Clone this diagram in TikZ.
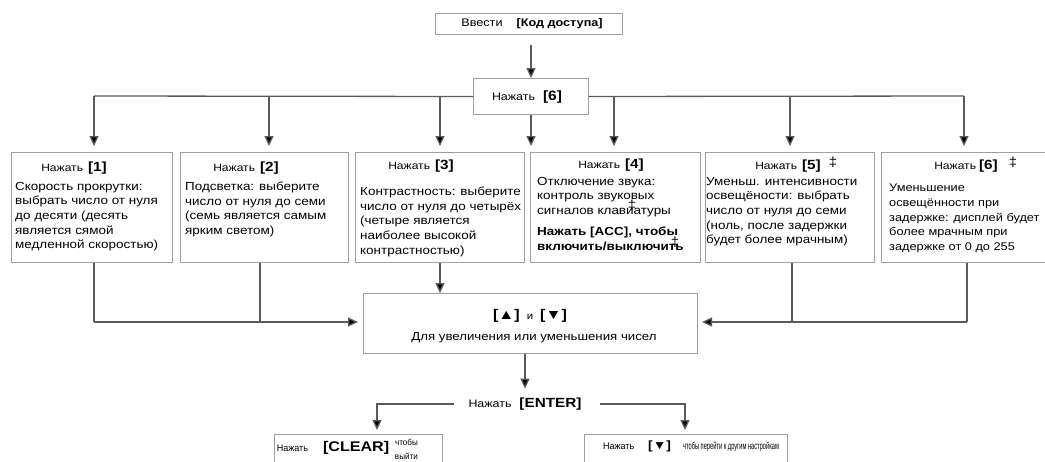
\documentclass[tikz,border=0pt]{standalone}
\usepackage{fontspec}
\setmainfont{Liberation Sans}[FakeStretch=1.15]
\newfontfamily\nrwf{Liberation Sans}[FakeStretch=0.95]
\newfontfamily\condf{Liberation Sans}[FakeStretch=0.57]
\usetikzlibrary{arrows.meta}
\definecolor{boxgray}{HTML}{A0A0A0}
\definecolor{lgray}{HTML}{5A5A5A}
\newcommand{\fs}[1]{\fontsize{#1}{#1}\selectfont}
\begin{document}
\begin{tikzpicture}[x=1pt,y=-1pt,
  box/.style={draw=boxgray, line width=1pt, inner sep=0pt, anchor=north west},
  conn/.style={draw=lgray, line width=1.3pt},
  arr/.style={conn, -{Triangle[width=9pt,length=10pt,fill=black]}},
  body/.style={inner sep=0pt, align=left, anchor=north west, font=\fontsize{11.7}{14.6}\selectfont},
  lbl/.style={inner sep=0pt},
  dag/.style={inner sep=0pt, font=\fontsize{13}{13}\selectfont},
]
\useasboundingbox (0,0) rectangle (1045,461);
\clip (0,0) rectangle (1045,461);
% boxes
\node[box, minimum width=187pt, minimum height=21pt] (top) at (435,13) {};
\node[box, minimum width=115pt, minimum height=36pt] (k6) at (473,78) {};
\node[box, minimum width=161pt, minimum height=110pt] (b1) at (11,152) {};
\node[box, minimum width=168pt, minimum height=110pt] (b2) at (180,152) {};
\node[box, minimum width=169pt, minimum height=110pt] (b3) at (355,152) {};
\node[box, minimum width=170pt, minimum height=110pt] (b4) at (530,152) {};
\node[box, minimum width=169pt, minimum height=110pt] (b5) at (705,152) {};
\node[box, minimum width=175pt, minimum height=110pt] (b6) at (881,152) {};
\node[box, minimum width=334pt, minimum height=60pt] (mid) at (363,293) {};
\node[box, minimum width=168pt, minimum height=40pt] (clr) at (274,434) {};
\node[box, minimum width=203pt, minimum height=40pt] (nxt) at (584,434) {};
% texts
\node[lbl] (ttop) at (532,24) {\fs{11}Ввести\hspace{14pt}\textbf{[Код доступа]}};
\node[lbl] (tk6) at (527,97) {\fs{10.8}Нажать\hspace{8pt}{\fs{13.5}\textbf{[6]}}};
\node[lbl] (h1) at (74,168) {\fs{10.5}Нажать\hspace{5pt}{\fs{13.3}\textbf{[1]}}};
\node[lbl] (h2) at (246,168) {\fs{10.5}Нажать\hspace{5pt}{\fs{13.3}\textbf{[2]}}};
\node[lbl] (h3) at (421,166) {\fs{10.5}Нажать\hspace{5pt}{\fs{13.3}\textbf{[3]}}};
\node[lbl] (h4) at (611,165) {\fs{10.5}Нажать\hspace{5pt}{\fs{13.3}\textbf{[4]}}};
\node[lbl] (h5) at (788,166) {\fs{10.5}Нажать\hspace{5pt}{\fs{13.3}\textbf{[5]}}};
\node[lbl] (h6) at (966,166) {\fs{10.5}Нажать\hspace{3pt}{\fs{13.3}\textbf{[6]}}};
\node[dag] (d5) at (833,162) {‡};
\node[dag] (d6) at (1013,162) {‡};
\node[body] (t1) at (15,182) {Скорость прокрутки:\\выбрать число от нуля\\до десяти (десять\\является сямой\\медленной скоростью)};
\node[body] (t2) at (185,182) {Подсветка: выберите\\число от нуля до семи\\(семь является самым\\ярким светом)};
\node[body] (t3) at (360,187) {Контрастность: выберите\\число от нуля до четырёх\\(четыре является\\наиболее высокой\\контрастностью)};
\node[body] (t4) at (537,177) {Отключение звука:\\контроль звуковых\\сигналов клавиатуры};
\node[body, font=\bfseries\fontsize{11.7}{14.6}\selectfont] (t4b) at (537,227) {Нажать [ACC], чтобы\\включить/выключить};
\node[dag] (d4a) at (632,205) {‡};
\node[dag] (d4b) at (675,242) {‡};
\node[body] (t5) at (706,177) {Уменьш. интенсивности\\освещёности: выбрать\\число от нуля до семи\\(ноль, после задержки\\будет более мрачным)};
\node[body, font=\fontsize{11.1}{14.6}\selectfont] (t6) at (889,184) {Уменьшение\\освещённости при\\задержке: дисплей будет\\более мрачным при\\задержке от 0 до 255};
\node[lbl] (m1) at (530,316) {\fs{14}\textbf{[▲]}\hspace{7pt}{\fs{10}и}\hspace{7pt}\textbf{[▼]}};
\node[lbl] (m2) at (534,338) {\fs{11.5}Для увеличения или уменьшения чисел};
\node[lbl] (enter) at (525,404) {\fs{10.8}Нажать\hspace{8pt}{\fs{13.3}\textbf{[ENTER]}}};
\node[lbl] (c1) at (333,448) {\fs{9.5}{\nrwf Нажать}\hspace{15pt}{\fs{14}\textbf{[CLEAR]}}};
\node[lbl, align=right, anchor=east, font=\fontsize{8.5}{14.2}\selectfont\nrwf] (c2) at (418,449.5) {чтобы\\выйти};
\node[lbl] (n1) at (691,446) {\fs{9.5}{\nrwf Нажать}\hspace{14pt}{\fs{12}\textbf{[▼]}}\hspace{12pt}{\fs{10}\condf чтобы перейти к другим настройкам}};
% connector points
\coordinate (hl) at (94,96);
\coordinate (hr) at (964,96);
\coordinate (x2) at (269,96);
\coordinate (x3) at (440,96);
\coordinate (x4) at (614,96);
\coordinate (x5) at (790,96);
\coordinate (u1) at (94,322);
\coordinate (u2) at (260,322);
\coordinate (u5) at (792,322);
\coordinate (u6) at (967,322);
\coordinate (v3) at (440,262);
\coordinate (el) at (454,404);
\coordinate (er) at (600,404);
\coordinate (ca) at (377,434);
\coordinate (cb) at (685,434);
% connectors
\draw[arr, shorten <=10pt] (top.south -| k6.north) -- (k6.north);
\draw[conn] (hl) -- (k6.west);
\draw[conn] (k6.east) -- (hr);
\draw[arr, shorten >=6pt] (hl) -- (hl |- b1.north);
\draw[arr, shorten >=6pt] (x2) -- (x2 |- b2.north);
\draw[arr, shorten >=6pt] (x3) -- (x3 |- b3.north);
\draw[arr, shorten >=6pt] (k6.south) -- (k6.south |- b4.north);
\draw[arr, shorten >=6pt] (x4) -- (x4 |- b4.north);
\draw[arr, shorten >=6pt] (x5) -- (x5 |- b5.north);
\draw[arr, shorten >=6pt] (hr) -- (hr |- b6.north);
\draw[conn] (u1 |- b1.south) -- (u1);
\draw[conn] (u2 |- b2.south) -- (u2);
\draw[arr, shorten >=5pt] (u1) -- (mid.west |- u1);
\draw[conn] (u6 |- b6.south) -- (u6);
\draw[conn] (u5 |- b5.south) -- (u5);
\draw[arr, shorten >=4pt] (u6) -- (mid.east |- u6);
\draw[arr] (v3 |- b3.south) -- (v3 |- mid.north);
\draw[arr, shorten >=9pt] (mid.south -| enter.north) -- (enter.north);
\draw[arr, shorten >=4pt] (el) -| (ca);
\draw[arr, shorten >=4pt] (er) -| (cb);
\end{tikzpicture}
\end{document}
